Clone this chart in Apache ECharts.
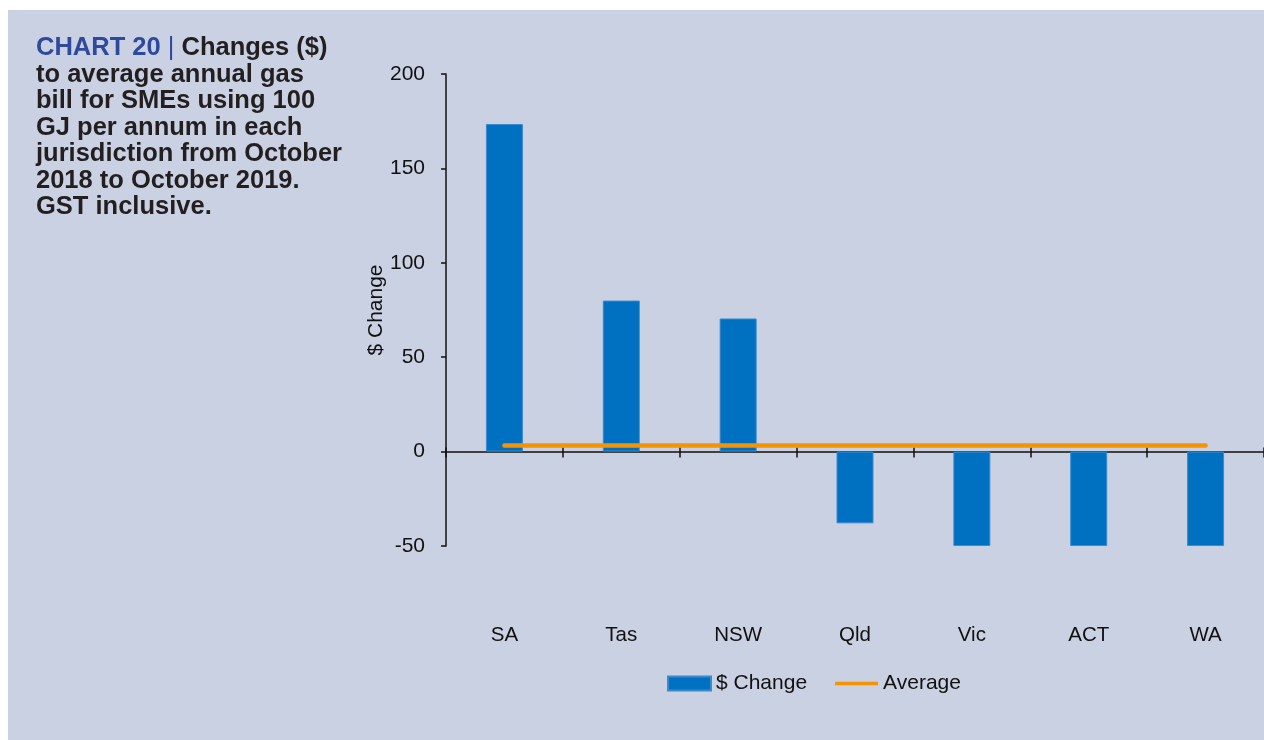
<!DOCTYPE html>
<html>
<head>
<meta charset="utf-8">
<script src="https://cdn.jsdelivr.net/npm/echarts@6/dist/echarts.min.js"></script>
<style>
  html, body { margin:0; padding:0; background:#ffffff; }
  #wrap { position:relative; width:1264px; height:740px; background:#ffffff; overflow:hidden; }
  #panel { position:absolute; left:8px; top:10px; right:0; bottom:0; background:#cad1e3; }
  #chart { position:absolute; left:0; top:0; width:1264px; height:740px; }
</style>
</head>
<body>
<div id="wrap"><div id="panel"></div><div id="chart"></div></div>
<script>
// Data
const categories = ['SA', 'Tas', 'NSW', 'Qld', 'Vic', 'ACT', 'WA'];
const changeValues = [173.5, 80, 70.5, -38, -50, -50, -50];
const averageValues = [3.2, 3.2, 3.2, 3.2, 3.2, 3.2, 3.2];
const yTicks = { min: -50, max: 200, interval: 50 };
const titleLines = [
  'to average annual gas',
  'bill for SMEs using 100',
  'GJ per annum in each',
  'jurisdiction from October',
  '2018 to October 2019.',
  'GST inclusive.'
];

const FONT = "'Liberation Sans', Arial, Helvetica, sans-serif";
const chart = echarts.init(document.getElementById('chart'), null, { renderer: 'canvas' });

const GRID = { left: 446, right: -11, top: 74, bottom: 194 };
// distance (px) from the bottom of the plot (min value) up to the zero line
const plotH = 740 - GRID.top - GRID.bottom;
const zeroOffset = plotH * (0 - yTicks.min) / (yTicks.max - yTicks.min);

chart.setOption({
  animation: false,
  textStyle: { fontFamily: FONT },
  title: {
    left: 31,
    top: 30,
    text: '{b|CHART 20} {p||} Changes ($)\n' + titleLines.join('\n'),
    textStyle: {
      fontFamily: FONT,
      fontSize: 25.5,
      fontWeight: 'bold',
      color: '#231f20',
      lineHeight: 26.5,
      rich: {
        b: { fontFamily: FONT, fontSize: 25.5, fontWeight: 'bold', color: '#2e4a9e', lineHeight: 26.5 },
        p: { fontFamily: FONT, fontSize: 25.5, fontWeight: 'normal', color: '#2e4a9e', lineHeight: 26.5 }
      }
    }
  },
  legend: {
    left: 662,
    top: 668,
    itemWidth: 43,
    itemHeight: 14,
    itemGap: 28,
    textStyle: { fontFamily: FONT, fontSize: 21, color: '#111111' },
    data: [
      { name: '$ Change', icon: 'rect' },
      { name: 'Average', icon: 'path://M0,0L46,0L46,4L0,4Z' }
    ]
  },
  grid: { left: GRID.left, right: GRID.right, top: GRID.top, bottom: GRID.bottom, containLabel: false },
  xAxis: [
    {
      type: 'category',
      data: categories,
      position: 'bottom',
      axisLine: { show: true, onZero: true, lineStyle: { color: '#111111', width: 1.5 } },
      axisTick: { show: true, inside: false, length: 6, lineStyle: { color: '#111111', width: 1.5 } },
      axisLabel: { margin: 79, fontFamily: FONT, fontSize: 20.5, color: '#111111' },
      splitLine: { show: false }
    },
    {
      type: 'category',
      data: categories,
      position: 'bottom',
      offset: -zeroOffset,
      axisLine: { show: false, onZero: false },
      axisTick: { show: true, inside: true, length: 4, lineStyle: { color: '#111111', width: 1.5 } },
      axisLabel: { show: false },
      splitLine: { show: false }
    }
  ],
  yAxis: {
    type: 'value',
    min: yTicks.min,
    max: yTicks.max,
    interval: yTicks.interval,
    name: '$ Change',
    nameLocation: 'middle',
    nameRotate: 90,
    nameGap: 59,
    nameMoveOverlap: false,
    nameTextStyle: { fontFamily: FONT, fontSize: 21, color: '#111111' },
    axisLine: { show: true, lineStyle: { color: '#111111', width: 1.5 } },
    axisTick: { show: true, inside: false, length: 5, lineStyle: { color: '#111111', width: 1.5 } },
    axisLabel: { margin: 21, fontFamily: FONT, fontSize: 21, color: '#111111' },
    splitLine: { show: false }
  },
  series: [
    {
      name: '$ Change',
      type: 'bar',
      xAxisIndex: 0,
      data: changeValues,
      barWidth: 37,
      itemStyle: { color: '#0070c0', borderColor: '#3a8ad0', borderWidth: 1 },
      z: 2
    },
    {
      name: 'Average',
      type: 'line',
      xAxisIndex: 0,
      data: averageValues,
      symbol: 'none',
      lineStyle: { color: '#f59400', width: 4.5, cap: 'round' },
      itemStyle: { color: '#f59400' },
      z: 3
    }
  ]
});
</script>
</body>
</html>
